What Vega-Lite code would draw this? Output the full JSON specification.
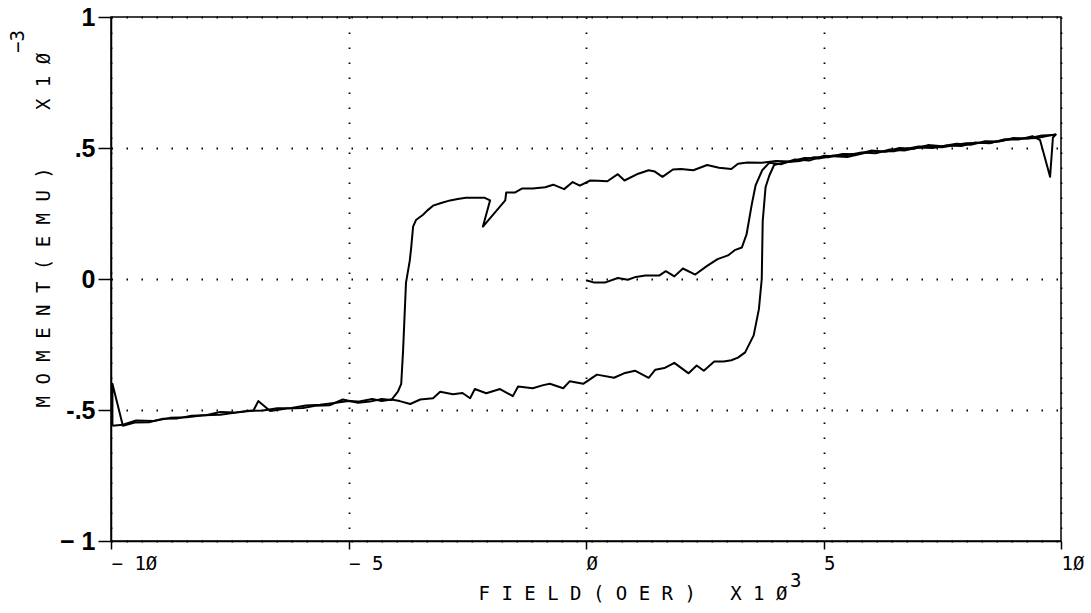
{
  "$schema": "https://vega.github.io/schema/vega-lite/v6.json",
  "width": 950,
  "height": 524,
  "autosize": {"type": "none"},
  "padding": {"left": 111, "top": 17, "right": 30, "bottom": 72},
  "background": "white",
  "title": {"text": "3", "orient": "bottom", "anchor": "start", "frame": "group", "offset": -31, "dx": 679, "font": "DejaVu Sans Mono", "fontSize": 19, "fontWeight": "normal", "baseline": "top", "color": "black"},
  "config": {
    "view": {"stroke": "black", "strokeWidth": 1.5},
    "axis": {
      "domainColor": "black", "domainWidth": 1.5,
      "tickColor": "black", "tickWidth": 1.5,
      "labelColor": "black", "titleColor": "black",
      "grid": true, "gridColor": "black", "gridDash": [1.5, 13.5], "gridWidth": 1.8,
      "labelFlush": false, "labelOverlap": false
    }
  },
  "data": {"values": [
    {"b":"init","i":0,"x":0.0,"y":-0.005},{"b":"init","i":1,"x":0.16,"y":-0.013},{"b":"init","i":2,"x":0.41,"y":-0.013},{"b":"init","i":3,"x":0.67,"y":0.004},{"b":"init","i":4,"x":0.88,"y":-0.003},{"b":"init","i":5,"x":1.05,"y":0.008},{"b":"init","i":6,"x":1.25,"y":0.013},{"b":"init","i":7,"x":1.54,"y":0.013},{"b":"init","i":8,"x":1.68,"y":0.03},{"b":"init","i":9,"x":1.86,"y":0.01},{"b":"init","i":10,"x":2.04,"y":0.04},{"b":"init","i":11,"x":2.3,"y":0.017},{"b":"init","i":12,"x":2.55,"y":0.05},{"b":"init","i":13,"x":2.77,"y":0.076},{"b":"init","i":14,"x":2.99,"y":0.09},{"b":"init","i":15,"x":3.13,"y":0.11},{"b":"init","i":16,"x":3.28,"y":0.12},{"b":"init","i":17,"x":3.38,"y":0.17},{"b":"init","i":18,"x":3.49,"y":0.285},{"b":"init","i":19,"x":3.57,"y":0.357},{"b":"init","i":20,"x":3.71,"y":0.415},{"b":"init","i":21,"x":3.86,"y":0.444},{"b":"init","i":22,"x":4.1,"y":0.438},{"b":"init","i":23,"x":4.4,"y":0.456},{"b":"init","i":24,"x":4.7,"y":0.452},{"b":"init","i":25,"x":5.0,"y":0.47},{"b":"init","i":26,"x":5.5,"y":0.466},{"b":"init","i":27,"x":6.0,"y":0.487},{"b":"init","i":28,"x":6.5,"y":0.488},{"b":"init","i":29,"x":7.0,"y":0.506},{"b":"init","i":30,"x":7.5,"y":0.503},{"b":"init","i":31,"x":8.0,"y":0.518},{"b":"init","i":32,"x":8.5,"y":0.52},{"b":"init","i":33,"x":9.0,"y":0.535},{"b":"init","i":34,"x":9.5,"y":0.538},{"b":"init","i":35,"x":9.9,"y":0.553},

    {"b":"down","i":0,"x":9.9,"y":0.553},{"b":"down","i":1,"x":9.83,"y":0.54},{"b":"down","i":2,"x":9.77,"y":0.39},{"b":"down","i":3,"x":9.56,"y":0.53},{"b":"down","i":4,"x":9.4,"y":0.545},{"b":"down","i":5,"x":9.1,"y":0.532},{"b":"down","i":6,"x":8.8,"y":0.533},{"b":"down","i":7,"x":8.5,"y":0.518},{"b":"down","i":8,"x":8.2,"y":0.521},{"b":"down","i":9,"x":7.9,"y":0.508},{"b":"down","i":10,"x":7.6,"y":0.51},{"b":"down","i":11,"x":7.3,"y":0.5},{"b":"down","i":12,"x":7.0,"y":0.502},{"b":"down","i":13,"x":6.7,"y":0.49},{"b":"down","i":14,"x":6.4,"y":0.494},{"b":"down","i":15,"x":6.1,"y":0.48},{"b":"down","i":16,"x":5.8,"y":0.483},{"b":"down","i":17,"x":5.5,"y":0.472},{"b":"down","i":18,"x":5.2,"y":0.471},{"b":"down","i":19,"x":4.9,"y":0.46},{"b":"down","i":20,"x":4.6,"y":0.462},{"b":"down","i":21,"x":4.3,"y":0.448},{"b":"down","i":22,"x":4.0,"y":0.45},{"b":"down","i":23,"x":3.7,"y":0.444},{"b":"down","i":24,"x":3.4,"y":0.445},{"b":"down","i":25,"x":3.2,"y":0.44},{"b":"down","i":26,"x":3.06,"y":0.42},{"b":"down","i":27,"x":2.8,"y":0.425},{"b":"down","i":28,"x":2.55,"y":0.435},{"b":"down","i":29,"x":2.26,"y":0.415},{"b":"down","i":30,"x":2.0,"y":0.42},{"b":"down","i":31,"x":1.83,"y":0.418},{"b":"down","i":32,"x":1.61,"y":0.39},{"b":"down","i":33,"x":1.45,"y":0.41},{"b":"down","i":34,"x":1.32,"y":0.415},{"b":"down","i":35,"x":1.1,"y":0.402},{"b":"down","i":36,"x":0.81,"y":0.376},{"b":"down","i":37,"x":0.67,"y":0.4},{"b":"down","i":38,"x":0.45,"y":0.373},{"b":"down","i":39,"x":0.25,"y":0.375},{"b":"down","i":40,"x":0.09,"y":0.376},{"b":"down","i":41,"x":-0.13,"y":0.356},{"b":"down","i":42,"x":-0.28,"y":0.37},{"b":"down","i":43,"x":-0.46,"y":0.343},{"b":"down","i":44,"x":-0.69,"y":0.36},{"b":"down","i":45,"x":-0.86,"y":0.35},{"b":"down","i":46,"x":-1.12,"y":0.345},{"b":"down","i":47,"x":-1.35,"y":0.345},{"b":"down","i":48,"x":-1.5,"y":0.33},{"b":"down","i":49,"x":-1.68,"y":0.33},{"b":"down","i":50,"x":-1.7,"y":0.3},{"b":"down","i":51,"x":-2.17,"y":0.2},{"b":"down","i":52,"x":-2.02,"y":0.3},{"b":"down","i":53,"x":-2.13,"y":0.31},{"b":"down","i":54,"x":-2.3,"y":0.31},{"b":"down","i":55,"x":-2.53,"y":0.31},{"b":"down","i":56,"x":-2.7,"y":0.305},{"b":"down","i":57,"x":-2.86,"y":0.3},{"b":"down","i":58,"x":-3.05,"y":0.29},{"b":"down","i":59,"x":-3.22,"y":0.28},{"b":"down","i":60,"x":-3.35,"y":0.26},{"b":"down","i":61,"x":-3.43,"y":0.245},{"b":"down","i":62,"x":-3.58,"y":0.225},{"b":"down","i":63,"x":-3.64,"y":0.2},{"b":"down","i":64,"x":-3.68,"y":0.12},{"b":"down","i":65,"x":-3.71,"y":0.07},{"b":"down","i":66,"x":-3.79,"y":-0.015},{"b":"down","i":67,"x":-3.85,"y":-0.27},{"b":"down","i":68,"x":-3.89,"y":-0.4},{"b":"down","i":69,"x":-3.96,"y":-0.43},{"b":"down","i":70,"x":-4.1,"y":-0.462},{"b":"down","i":71,"x":-4.3,"y":-0.458},{"b":"down","i":72,"x":-4.55,"y":-0.468},{"b":"down","i":73,"x":-4.8,"y":-0.472},{"b":"down","i":74,"x":-5.12,"y":-0.46},{"b":"down","i":75,"x":-5.4,"y":-0.482},{"b":"down","i":76,"x":-5.7,"y":-0.484},{"b":"down","i":77,"x":-5.96,"y":-0.492},{"b":"down","i":78,"x":-6.3,"y":-0.494},{"b":"down","i":79,"x":-6.65,"y":-0.504},{"b":"down","i":80,"x":-6.9,"y":-0.466},{"b":"down","i":81,"x":-7.0,"y":-0.502},{"b":"down","i":82,"x":-7.37,"y":-0.51},{"b":"down","i":83,"x":-7.7,"y":-0.518},{"b":"down","i":84,"x":-8.06,"y":-0.52},{"b":"down","i":85,"x":-8.4,"y":-0.528},{"b":"down","i":86,"x":-8.76,"y":-0.53},{"b":"down","i":87,"x":-9.1,"y":-0.542},{"b":"down","i":88,"x":-9.47,"y":-0.54},{"b":"down","i":89,"x":-9.75,"y":-0.556},{"b":"down","i":90,"x":-9.97,"y":-0.56},

    {"b":"up","i":0,"x":-9.97,"y":-0.56},{"b":"up","i":1,"x":-9.97,"y":-0.4},{"b":"up","i":2,"x":-9.75,"y":-0.56},{"b":"up","i":3,"x":-9.5,"y":-0.548},{"b":"up","i":4,"x":-9.2,"y":-0.547},{"b":"up","i":5,"x":-8.9,"y":-0.533},{"b":"up","i":6,"x":-8.6,"y":-0.532},{"b":"up","i":7,"x":-8.3,"y":-0.522},{"b":"up","i":8,"x":-8.0,"y":-0.52},{"b":"up","i":9,"x":-7.7,"y":-0.508},{"b":"up","i":10,"x":-7.4,"y":-0.51},{"b":"up","i":11,"x":-7.1,"y":-0.503},{"b":"up","i":12,"x":-6.8,"y":-0.502},{"b":"up","i":13,"x":-6.5,"y":-0.493},{"b":"up","i":14,"x":-6.2,"y":-0.492},{"b":"up","i":15,"x":-5.9,"y":-0.483},{"b":"up","i":16,"x":-5.6,"y":-0.48},{"b":"up","i":17,"x":-5.3,"y":-0.473},{"b":"up","i":18,"x":-5.0,"y":-0.466},{"b":"up","i":19,"x":-4.8,"y":-0.468},{"b":"up","i":20,"x":-4.5,"y":-0.458},{"b":"up","i":21,"x":-4.3,"y":-0.466},{"b":"up","i":22,"x":-4.1,"y":-0.46},{"b":"up","i":23,"x":-3.92,"y":-0.466},{"b":"up","i":24,"x":-3.7,"y":-0.477},{"b":"up","i":25,"x":-3.49,"y":-0.46},{"b":"up","i":26,"x":-3.22,"y":-0.455},{"b":"up","i":27,"x":-3.07,"y":-0.43},{"b":"up","i":28,"x":-2.8,"y":-0.44},{"b":"up","i":29,"x":-2.6,"y":-0.435},{"b":"up","i":30,"x":-2.44,"y":-0.455},{"b":"up","i":31,"x":-2.34,"y":-0.42},{"b":"up","i":32,"x":-2.1,"y":-0.436},{"b":"up","i":33,"x":-1.81,"y":-0.42},{"b":"up","i":34,"x":-1.54,"y":-0.447},{"b":"up","i":35,"x":-1.43,"y":-0.41},{"b":"up","i":36,"x":-1.12,"y":-0.417},{"b":"up","i":37,"x":-0.9,"y":-0.405},{"b":"up","i":38,"x":-0.76,"y":-0.4},{"b":"up","i":39,"x":-0.48,"y":-0.417},{"b":"up","i":40,"x":-0.34,"y":-0.39},{"b":"up","i":41,"x":-0.06,"y":-0.4},{"b":"up","i":42,"x":0.23,"y":-0.365},{"b":"up","i":43,"x":0.59,"y":-0.377},{"b":"up","i":44,"x":0.8,"y":-0.36},{"b":"up","i":45,"x":1.03,"y":-0.35},{"b":"up","i":46,"x":1.32,"y":-0.377},{"b":"up","i":47,"x":1.46,"y":-0.346},{"b":"up","i":48,"x":1.65,"y":-0.34},{"b":"up","i":49,"x":1.86,"y":-0.32},{"b":"up","i":50,"x":2.16,"y":-0.36},{"b":"up","i":51,"x":2.33,"y":-0.33},{"b":"up","i":52,"x":2.48,"y":-0.35},{"b":"up","i":53,"x":2.7,"y":-0.315},{"b":"up","i":54,"x":2.9,"y":-0.315},{"b":"up","i":55,"x":3.06,"y":-0.31},{"b":"up","i":56,"x":3.2,"y":-0.3},{"b":"up","i":57,"x":3.35,"y":-0.28},{"b":"up","i":58,"x":3.53,"y":-0.215},{"b":"up","i":59,"x":3.64,"y":-0.115},{"b":"up","i":60,"x":3.7,"y":0.0},{"b":"up","i":61,"x":3.72,"y":0.22},{"b":"up","i":62,"x":3.78,"y":0.35},{"b":"up","i":63,"x":3.86,"y":0.395},{"b":"up","i":64,"x":3.96,"y":0.435},{"b":"up","i":65,"x":4.2,"y":0.446},{"b":"up","i":66,"x":4.5,"y":0.45},{"b":"up","i":67,"x":4.8,"y":0.465},{"b":"up","i":68,"x":5.1,"y":0.465},{"b":"up","i":69,"x":5.4,"y":0.477},{"b":"up","i":70,"x":5.7,"y":0.476},{"b":"up","i":71,"x":6.0,"y":0.49},{"b":"up","i":72,"x":6.3,"y":0.486},{"b":"up","i":73,"x":6.6,"y":0.5},{"b":"up","i":74,"x":6.9,"y":0.497},{"b":"up","i":75,"x":7.2,"y":0.511},{"b":"up","i":76,"x":7.5,"y":0.507},{"b":"up","i":77,"x":7.8,"y":0.516},{"b":"up","i":78,"x":8.1,"y":0.512},{"b":"up","i":79,"x":8.4,"y":0.526},{"b":"up","i":80,"x":8.7,"y":0.525},{"b":"up","i":81,"x":9.0,"y":0.538},{"b":"up","i":82,"x":9.3,"y":0.536},{"b":"up","i":83,"x":9.6,"y":0.548},{"b":"up","i":84,"x":9.87,"y":0.55}
  ]},
  "mark": {"type": "line", "color": "black", "strokeWidth": 2, "strokeJoin": "round"},
  "encoding": {
    "x": {
      "field": "x", "type": "quantitative",
      "scale": {"domain": [-10, 10], "nice": false, "zero": false},
      "axis": {
        "values": [-10, -5, 0, 5, 10],
        "labelExpr": "datum.value == -10 ? '−\u00a01Ø' : datum.value == -5 ? '−\u00a05' : datum.value == 0 ? 'Ø' : datum.value == 5 ? '5' : '1Ø'",
        "labelAlign": "left", "labelBaseline": "top",
        "labelFont": "DejaVu Sans Mono", "labelFontSize": 19, "labelPadding": 5,
        "tickSize": 8,
        "title": "F\u00a0I\u00a0E\u00a0L\u00a0D\u00a0(\u00a0O\u00a0E\u00a0R\u00a0)\u00a0\u00a0\u00a0X\u00a01\u00a0Ø",
        "titleFont": "DejaVu Sans Mono", "titleFontSize": 19, "titleFontWeight": "normal",
        "titleAlign": "left", "titleBaseline": "top", "titleX": 367, "titleY": 43
      }
    },
    "y": {
      "field": "y", "type": "quantitative",
      "scale": {"domain": [-1, 1], "nice": false, "zero": false},
      "axis": {
        "values": [-1, -0.5, 0, 0.5, 1],
        "labelExpr": "datum.value == 1 ? '1' : datum.value == 0.5 ? '.5' : datum.value == 0 ? '0' : datum.value == -0.5 ? '-.5' : '−\u00a01'",
        "labelFont": "Liberation Sans", "labelFontSize": 25, "labelFontWeight": "bold",
        "labelPadding": 3, "tickSize": 13,
        "title": ["\u200b\u00a0\u00a0\u00a0\u00a0\u00a0\u00a0\u00a0\u00a0\u00a0\u00a0\u00a0\u00a0\u00a0\u00a0\u00a0\u00a0\u00a0\u00a0\u00a0\u00a0\u00a0\u00a0\u00a0\u00a0\u00a0\u00a0\u00a0\u00a0\u00a0\u00a0\u00a0−3", "M\u00a0O\u00a0M\u00a0E\u00a0N\u00a0T\u00a0(\u00a0E\u00a0M\u00a0U\u00a0)\u00a0\u00a0\u00a0\u00a0\u00a0X\u00a01\u00a0Ø"],
        "titleFont": "DejaVu Sans Mono", "titleFontSize": 19, "titleFontWeight": "normal",
        "titleAngle": 270, "titleAlign": "left", "titleBaseline": "top",
        "titleX": -103, "titleY": 390, "titleLineHeight": 26
      }
    },
    "detail": {"field": "b"},
    "order": {"field": "i", "type": "quantitative"}
  }
}
